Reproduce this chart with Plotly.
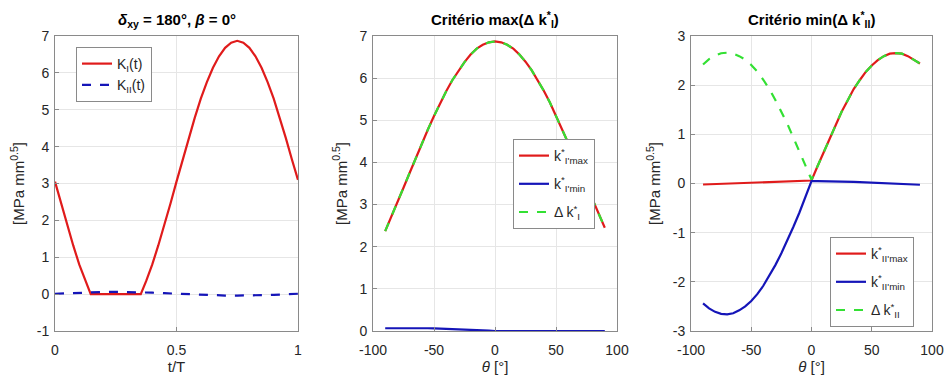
import plotly.graph_objects as go

# ---------------- data ----------------
t = [0, 0.025, 0.05, 0.075, 0.1, 0.125, 0.147, 0.175, 0.2, 0.225, 0.25, 0.275, 0.3, 0.325, 0.353,
     0.375, 0.4, 0.425, 0.45, 0.475, 0.5, 0.525, 0.55, 0.575, 0.6, 0.625, 0.65, 0.675, 0.7, 0.725,
     0.75, 0.775, 0.8, 0.825, 0.85, 0.875, 0.9, 0.925, 0.95, 0.975, 1.0]
KI = [3.05, 2.45, 1.87, 1.32, 0.80, 0.35, 0.0, 0.0, 0.0, 0.0, 0.0, 0.0, 0.0, 0.0, 0.0,
      0.35, 0.80, 1.32, 1.87, 2.45, 3.05, 3.65, 4.23, 4.78, 5.30, 5.75, 6.14, 6.45, 6.68, 6.82,
      6.87, 6.82, 6.68, 6.45, 6.14, 5.75, 5.30, 4.78, 4.23, 3.65, 3.10]
t2 = [0, 0.05, 0.1, 0.15, 0.2, 0.25, 0.3, 0.35, 0.4, 0.45, 0.5, 0.55, 0.6, 0.65, 0.7, 0.75,
      0.8, 0.85, 0.9, 0.95, 1.0]
KII = [0.01, 0.025, 0.04, 0.05, 0.058, 0.06, 0.058, 0.05, 0.04, 0.025, 0.01, -0.005, -0.02,
       -0.03, -0.038, -0.04, -0.038, -0.03, -0.02, -0.005, 0.01]

theta = [-90, -85, -80, -75, -70, -65, -60, -55, -50, -45, -40, -35, -30, -25, -20, -15, -10, -5,
         0, 5, 10, 15, 20, 25, 30, 35, 40, 45, 50, 55, 60, 65, 70, 75, 80, 85, 90]

kI_max = [2.37, 2.70, 3.05, 3.40, 3.75, 4.10, 4.44, 4.78, 5.10, 5.41, 5.69, 5.95, 6.18, 6.38,
          6.56, 6.70, 6.79, 6.85, 6.87, 6.85, 6.79, 6.70, 6.56, 6.39, 6.19, 5.96, 5.70, 5.42,
          5.11, 4.79, 4.46, 4.12, 3.78, 3.43, 3.09, 2.75, 2.45]
kI_min = [0.065, 0.067, 0.068, 0.069, 0.069, 0.068, 0.067, 0.065, 0.062, 0.058, 0.053, 0.048,
          0.042, 0.036, 0.029, 0.022, 0.015, 0.008, 0.0, 0.0, 0.0, 0.0, 0.0, 0.0, 0.0, 0.0,
          0.0, 0.0, 0.0, 0.0, 0.0, 0.0, 0.0, 0.0, 0.0, 0.0, 0.0]
dkI = [2.37, 2.70, 3.05, 3.40, 3.75, 4.10, 4.44, 4.78, 5.10, 5.41, 5.69, 5.95, 6.18, 6.38,
       6.56, 6.70, 6.79, 6.85, 6.87, 6.85, 6.79, 6.70, 6.56, 6.39, 6.19, 5.96, 5.70, 5.42,
       5.11, 4.79, 4.46, 4.12, 3.78, 3.43, 3.09, 2.75, 2.45]

kII_max = [-0.02, -0.015, -0.01, -0.005, 0.0, 0.005, 0.01, 0.015, 0.02, 0.025, 0.03, 0.035,
           0.04, 0.045, 0.05, 0.053, 0.056, 0.058, 0.06, 0.35, 0.63, 0.93, 1.19, 1.46, 1.69,
           1.92, 2.10, 2.27, 2.40, 2.51, 2.59, 2.64, 2.65, 2.64, 2.59, 2.52, 2.44]
kII_min = [-2.44, -2.54, -2.61, -2.65, -2.66, -2.64, -2.58, -2.50, -2.39, -2.25, -2.08, -1.88,
           -1.66, -1.42, -1.16, -0.88, -0.59, -0.28, 0.05, 0.05, 0.05, 0.048, 0.045, 0.042,
           0.04, 0.035, 0.03, 0.025, 0.02, 0.015, 0.01, 0.005, 0.0, -0.005, -0.01, -0.02, -0.025]
dkII = [2.42, 2.53, 2.60, 2.65, 2.66, 2.64, 2.59, 2.52, 2.41, 2.28, 2.11, 1.92, 1.70, 1.47,
        1.21, 0.93, 0.645, 0.335, 0.08, 0.35, 0.63, 0.93, 1.19, 1.46, 1.69, 1.92, 2.10, 2.27,
        2.40, 2.51, 2.59, 2.64, 2.65, 2.64, 2.59, 2.52, 2.44]

xt1 = [0, 0.5, 1]
xt1_lbl = ["0", "0.5", "1"]
xt_theta = [-100, -50, 0, 50, 100]
xt_theta_lbl = ["-100", "-50", "0", "50", "100"]
yt1 = [-1, 0, 1, 2, 3, 4, 5, 6, 7]
yt2 = [0, 1, 2, 3, 4, 5, 6, 7]
yt3 = [-3, -2, -1, 0, 1, 2, 3]

RED = "#e01b1b"
BLUE = "#1515b8"
GREEN = "#33e033"
FONT = "Liberation Sans, Arial, sans-serif"

fig = go.Figure()


def add(x, y, name, color, dash, xa, ya, leg, grp):
    fig.add_trace(go.Scatter(x=x, y=y, mode="lines", line=dict(color=color, width=2.2, dash=dash),
                             name=name, xaxis=xa, yaxis=ya, legend=leg, legendgroup=grp))


# panel 1
add(t, KI, "K<sub>I</sub>(t)", RED, "solid", "x", "y", "legend", "a1")
add(t2, KII, "K<sub>II</sub>(t)", BLUE, "dash", "x", "y", "legend", "a2")
# panel 2
add(theta, kI_max, "k<sup>*</sup><sub>I'max</sub>", RED, "solid", "x2", "y2", "legend2", "b1")
add(theta, kI_min, "k<sup>*</sup><sub>I'min</sub>", BLUE, "solid", "x2", "y2", "legend2", "b2")
add(theta, dkI, "Δ k<sup>*</sup><sub>I</sub>", GREEN, "dash", "x2", "y2", "legend2", "b3")
# panel 3
add(theta, kII_max, "k<sup>*</sup><sub>II'max</sub>", RED, "solid", "x3", "y3", "legend3", "c1")
add(theta, kII_min, "k<sup>*</sup><sub>II'min</sub>", BLUE, "solid", "x3", "y3", "legend3", "c2")
add(theta, dkII, "Δ k<sup>*</sup><sub>II</sub>", GREEN, "dash", "x3", "y3", "legend3", "c3")

W, H = 947, 380
ytop, ybot = 1 - 36 / H, 1 - 331 / H
doms = [(55 / W, 298 / W), (373 / W, 617 / W), (691 / W, 932 / W)]

axcommon = dict(showline=True, mirror=True, linecolor="#8a8a8a", linewidth=1,
                showgrid=True, gridcolor="#e6e6e6", gridwidth=1, zeroline=False,
                ticks="inside", ticklen=4, tickcolor="#8a8a8a", automargin=False,
                ticklabeloverflow="allow",
                tickfont=dict(size=14, color="#262626", family=FONT))
xcommon = dict(ticklabelstandoff=6, **axcommon)
ycommon = dict(ticklabelstandoff=2, **axcommon)
xtitle_font = dict(size=15, color="#262626", family=FONT)


def legend_at(x, y, gap):
    return dict(x=x / W, y=1 - y / H, xanchor="left", yanchor="top",
                bgcolor="white", bordercolor="#8a8a8a", borderwidth=1,
                font=dict(size=14, color="#262626"), tracegroupgap=gap, itemwidth=30)


fig.update_layout(
    width=W, height=H,
    margin=dict(l=0, r=0, t=0, b=0),
    paper_bgcolor="white", plot_bgcolor="white",
    font=dict(family=FONT, color="#262626"),
    xaxis=dict(domain=doms[0], anchor="y", range=[0, 1], tickvals=xt1, ticktext=xt1_lbl,
               title=dict(text="t/T", font=xtitle_font, standoff=4), **xcommon),
    yaxis=dict(domain=[ybot, ytop], anchor="x", range=[-1, 7], tickvals=yt1,
               ticktext=[str(v) for v in yt1],
               title=dict(text="[MPa mm<sup>0.5</sup>]", font=xtitle_font, standoff=8), **ycommon),
    xaxis2=dict(domain=doms[1], anchor="y2", range=[-100, 100], tickvals=xt_theta,
                ticktext=xt_theta_lbl,
                title=dict(text="<i>θ</i> [°]", font=xtitle_font, standoff=4), **xcommon),
    yaxis2=dict(domain=[ybot, ytop], anchor="x2", range=[0, 7], tickvals=yt2,
                ticktext=[str(v) for v in yt2],
                title=dict(text="[MPa mm<sup>0.5</sup>]", font=xtitle_font, standoff=8), **ycommon),
    xaxis3=dict(domain=doms[2], anchor="y3", range=[-100, 100], tickvals=xt_theta,
                ticktext=xt_theta_lbl,
                title=dict(text="<i>θ</i> [°]", font=xtitle_font, standoff=4), **xcommon),
    yaxis3=dict(domain=[ybot, ytop], anchor="x3", range=[-3, 3], tickvals=yt3,
                ticktext=[str(v) for v in yt3],
                title=dict(text="[MPa mm<sup>0.5</sup>]", font=xtitle_font, standoff=8), **ycommon),
    legend=legend_at(76, 47, 0),
    legend2=legend_at(513, 139, 7),
    legend3=legend_at(830, 237, 7),
    showlegend=True,
)

titles = ["<b><i>δ</i><sub>xy</sub> = 180°, <i>β</i> = 0°</b>",
          "<b>Critério max(Δ k<sup>*</sup><sub>I</sub>)</b>",
          "<b>Critério min(Δ k<sup>*</sup><sub>II</sub>)</b>"]
for (d0, d1), txt in zip(doms, titles):
    fig.add_annotation(text=txt, x=(d0 + d1) / 2, y=ytop, xref="paper", yref="paper",
                       xanchor="center", yanchor="bottom", yshift=4, showarrow=False,
                       font=dict(size=15, color="#000000", family=FONT))

fig.write_html("out.html")
